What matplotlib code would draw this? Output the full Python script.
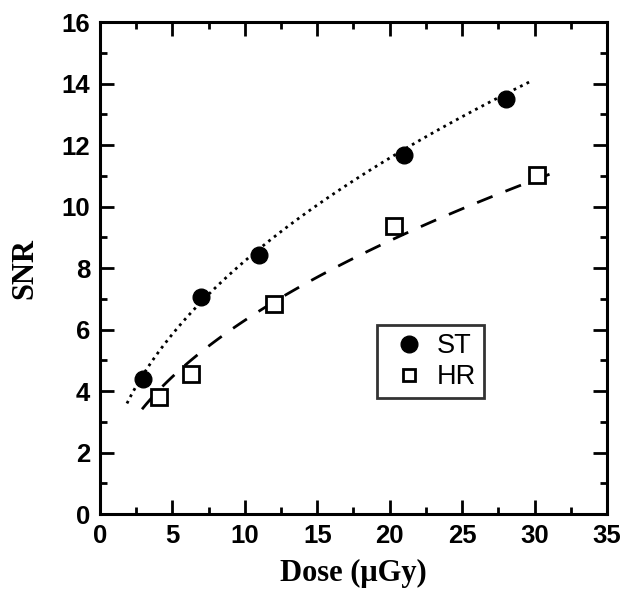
import numpy as np
import matplotlib
matplotlib.use("Agg")
import matplotlib.pyplot as plt
from matplotlib.ticker import MultipleLocator

# data
st_dose = [3, 7, 11, 21, 28]
st_snr = [4.4, 7.05, 8.42, 11.67, 13.5]
hr_dose = [4.1, 6.3, 12, 20.3, 30.2]
hr_snr = [3.8, 4.55, 6.82, 9.37, 11.03]

# fit curves y = a * x^b, coefficients estimated from the drawn curves
st_fit = (2.653, 0.492)
hr_fit = (2.012, 0.496)
st_fit_range = (1.86, 29.7)
hr_fit_range = (2.9, 31.6)

st_x = np.linspace(*st_fit_range, 100)
hr_x = np.linspace(*hr_fit_range, 100)

plt.rcParams['font.family'] = ['Liberation Sans', 'DejaVu Sans']

fig = plt.figure(figsize=(6.29, 6.02), dpi=100)
ax = fig.add_axes([0.159, 0.146, 0.806, 0.817])

ax.plot(st_x, st_fit[0] * st_x ** st_fit[1], color='black', lw=2, linestyle=(0, (1, 1.6)))
ax.plot(hr_x, hr_fit[0] * hr_x ** hr_fit[1], color='black', lw=2, linestyle=(0, (6, 5)))
ax.plot(st_dose, st_snr, 'o', color='black', markersize=12, label='ST')
ax.plot(hr_dose, hr_snr, 's', markerfacecolor='white', markeredgecolor='black',
        markeredgewidth=2, markersize=11, label='HR')

ax.set_xlim(0, 35)
ax.set_ylim(0, 16)
ax.xaxis.set_major_locator(MultipleLocator(5))
ax.xaxis.set_minor_locator(MultipleLocator(2.5))
ax.yaxis.set_major_locator(MultipleLocator(2))
ax.yaxis.set_minor_locator(MultipleLocator(1))
ax.tick_params(which='both', direction='in', top=True, right=True, width=2)
ax.tick_params(which='major', length=10, labelsize=18.5, pad=7)
ax.tick_params(which='minor', length=5)
for lab in ax.get_xticklabels() + ax.get_yticklabels():
    lab.set_fontweight('bold')
for sp in ax.spines.values():
    sp.set_linewidth(2.2)

ax.set_xlabel('Dose (\u03bcGy)', family='Liberation Serif', fontweight='bold',
              fontsize=22, labelpad=8)
ax.set_ylabel('SNR', family='Liberation Serif', fontweight='bold', fontsize=22,
              labelpad=16)

leg = ax.legend(loc='upper left', bbox_to_anchor=(0.546, 0.384), fontsize=19.5,
                frameon=True, fancybox=False, handletextpad=0.12, borderpad=0.3,
                handlelength=1.8, labelspacing=0.18, borderaxespad=0)
leg.get_frame().set_edgecolor('black')
leg.get_frame().set_linewidth(2)
leg.legend_handles[0].set_markersize(12)
leg.legend_handles[1].set_markersize(9)

fig.savefig('out.png', dpi=100)
